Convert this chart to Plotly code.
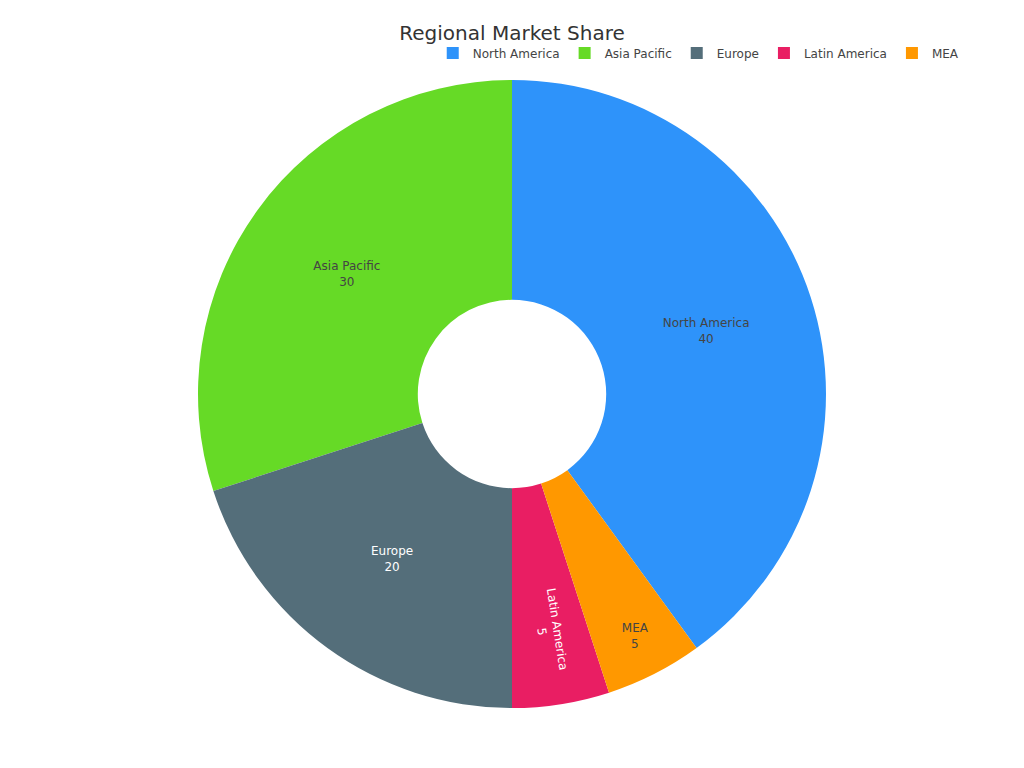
import plotly.graph_objects as go

labels = ["North America", "Asia Pacific", "Europe", "Latin America", "MEA"]
values = [40, 30, 20, 5, 5]
colors = ["#2E93FA", "#66DA26", "#546E7A", "#E91E63", "#FF9800"]

fig = go.Figure(go.Pie(
    labels=labels,
    values=values,
    hole=0.3,
    sort=False,
    direction="counterclockwise",
    rotation=0,
    textinfo="label+value",
    marker=dict(colors=colors),
))

fig.update_layout(
    width=1024,
    height=768,
    font=dict(family="DejaVu Sans", size=12, color="#444"),
    title=dict(text="Regional Market Share", x=0.5, xanchor="center",
               y=1 - 33 / 768, yanchor="middle",
               font=dict(size=20, color="#333")),
    legend=dict(orientation="h", x=1.024, xanchor="right", y=1.02, yanchor="bottom"),
    margin=dict(t=80, b=60, l=80, r=80),
    paper_bgcolor="white",
)

fig.write_html("out.html", config={"displayModeBar": False},
               post_script="document.body.style.margin='0';")
